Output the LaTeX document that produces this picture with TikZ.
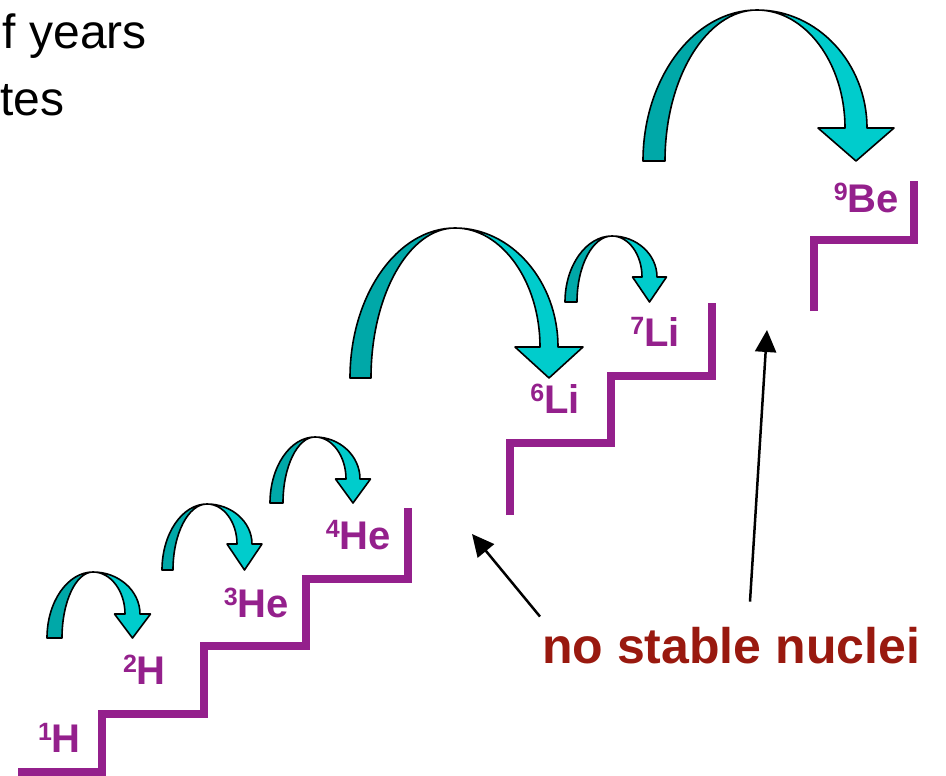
\documentclass[tikz,border=0pt]{standalone}
\usepackage{fontspec}
\setmainfont{Liberation Sans}
\usetikzlibrary{%
  arrows.meta,% Triangle tips
  calc%
}

\definecolor{stairpurple}{RGB}{148,32,140}
\definecolor{notered}{RGB}{153,25,15}
\definecolor{tealdark}{RGB}{0,168,168}
\definecolor{teallight}{RGB}{0,204,204}

% isotope label: small raised mass number
\newcommand\nuc[2]{\raisebox{12pt}{\fontsize{25}{25}\selectfont #1}#2}

% curved jump arrow: outer foot, inner foot, foot y, apex x, apex y,
% shaft inner x, shaft outer x, head base y, head half width
\newcommand\bendarrow[9]{%
  \filldraw[bandback] (#1,#3) .. controls (#1,{#3-0.55*(#3-#5)}) and ({#4-0.55*(#4-#1)},#5) .. (#4,#5)
    .. controls ({#4-0.55*(#4-#2)},#5) and (#2,{#3-0.55*(#3-#5)}) .. (#2,#3) -- cycle;
  \filldraw[bandfront] (#4,#5) .. controls ({#4+0.55*(#7-#4)},#5) and (#7,{#8-0.55*(#8-#5)}) .. (#7,#8)
    -- ({(#6+#7)/2+#9},#8) -- ({(#6+#7)/2},#3) -- ({(#6+#7)/2-#9},#8) -- (#6,#8)
    .. controls (#6,{#8-0.55*(#8-#5)}) and ({#4+0.55*(#6-#4)},#5) .. (#4,#5) -- cycle;
}

\begin{document}
\begin{tikzpicture}[x=1pt,y=-1pt,
	nucleus/.style={
	anchor=base east,inner sep=0,
	text=stairpurple,
	font=\fontsize{40}{40}\selectfont\bfseries
	},stair/.style={
	draw=stairpurple,line width=7.5pt
	},bandback/.style={
	fill=tealdark,draw=black,line width=1.6pt,line join=round
	},bandfront/.style={
	fill=teallight,draw=black,line width=1.6pt,line join=round
	},pointer/.style={
	draw=black,line width=2.5pt,-{Triangle[length=22pt,width=21pt]}
	},slidetext/.style={
	inner sep=0,
	font=\fontsize{48}{48}\selectfont
	}]

\useasboundingbox (0,0) rectangle (946,776);
\clip (0,0) rectangle (946,776);

% cut-off slide text
\node (line1) [slidetext,anchor=base east] at (147,49) {f years};
\node (line2) [slidetext,anchor=base west] at (0,115) {tes};

% staircases
\draw[stair] (18,772) -| (102,714) -| (204,646) -| (306,579) -| (408,508);
\draw[stair] (510,515) |- (611,443) |- (712,376) -- (712,303);
\draw[stair] (814,311) |- (914,240) -- (914,181);

% isotopes
\node (h1) [nucleus] at (81,752) {\nuc{1}{H}};
\node (h2) [nucleus] at (166,684) {\nuc{2}{H}};
\node (he3) [nucleus] at (289,617) {\nuc{3}{He}};
\node (he4) [nucleus] at (391,549) {\nuc{4}{He}};
\node (li6) [nucleus] at (580,413) {\nuc{6}{Li}};
\node (li7) [nucleus] at (680,346) {\nuc{7}{Li}};
\node (be9) [nucleus] at (899,212) {\nuc{9}{Be}};

% jumps
\bendarrow{47}{62}{638}{93}{572}{125}{140}{614}{18}
\bendarrow{162}{173}{570}{207}{504}{237}{252}{544}{17.5}
\bendarrow{270}{283}{503}{315}{437}{346}{360}{479}{17.5}
\bendarrow{350}{371}{378}{455}{228}{540}{558}{347}{34}
\bendarrow{565}{577}{302}{612}{236}{642}{657}{277}{17}
\bendarrow{643}{665}{161}{757}{10}{845}{867}{128}{38}

% gaps
\node (nostable) [anchor=base west,inner sep=0,text=notered,
	font=\fontsize{50}{50}\selectfont\bfseries] at (542,663) {no stable nuclei};
\coordinate (gap5) at (472,534);
\coordinate (gap8) at (767,330);
\draw[pointer] ([shift={(-2,-10)}]nostable.north west) -- (gap5);
\draw[pointer] ([shift={(208,-25)}]nostable.north west) -- (gap8);

\end{tikzpicture}
\end{document}
